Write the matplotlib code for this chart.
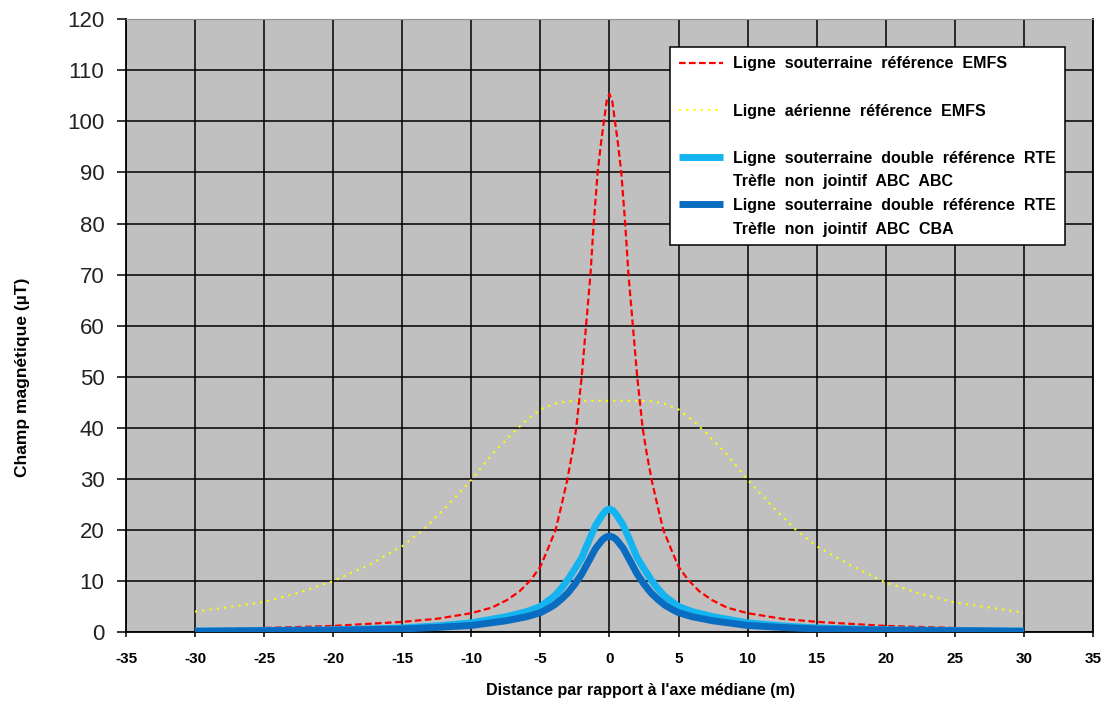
import numpy as np
import matplotlib
matplotlib.use('Agg')
import matplotlib.pyplot as plt
from matplotlib.lines import Line2D

plt.rcParams['font.family'] = ['Liberation Sans', 'DejaVu Sans']
plt.rcParams['axes.unicode_minus'] = False

# distance to the median axis (m) and field values (uT)
x_red = [-30, -25, -20, -15, -12.5, -10, -8.5, -7.4, -6.5, -5.7, -5.0, -4.5, -3.9, -3.5,
         -3.06, -2.66, -2.4, -2.0, -1.69, -1.38, -1.14, -0.85, -0.6, -0.4, -0.2, 0,
         0.2, 0.4, 0.6, 0.85, 1.14, 1.38, 1.69, 2.0, 2.4, 2.66, 3.06,
         3.5, 3.9, 4.5, 5.0, 5.7, 6.5, 7.4, 8.5, 10, 12.5, 15, 20, 25, 30]
red = [0.5, 0.8, 1.2, 2.0, 2.6, 3.7, 4.8, 6.3, 8.0, 10.2, 12.8, 16.0, 20.0, 24.5,
       29.7, 35.6, 40.0, 50.3, 60.1, 69.9, 80.0, 90.2, 96.0, 100.0, 104.0, 105.4,
       104.0, 100.0, 96.0, 90.2, 80.0, 69.9, 60.1, 50.3, 40.0, 35.6, 29.7,
       24.5, 20.0, 16.0, 12.8, 10.2, 8.0, 6.3, 4.8, 3.7, 2.6, 2.0, 1.2, 0.8, 0.5]

x_yel = [-30, -27.5, -25, -22.5, -20, -17.5, -15, -13.5, -12, -10, -8.5, -7, -6, -5, -4, -3, -2,
         0, 2, 3, 4, 5, 6, 7, 8.5, 10, 12, 13.5, 15, 17.5, 20, 22.5, 25, 27.5, 30]
yellow = [4.0, 4.9, 5.9, 7.7, 10.0, 13.0, 16.8, 20.0, 24.0, 29.8, 34.8, 39.0, 41.5, 43.6, 44.7, 45.2, 45.3,
          45.3, 45.3, 45.2, 44.7, 43.6, 41.5, 39.0, 34.8, 29.8, 24.0, 20.0, 16.8, 13.0, 9.7, 7.5, 5.8, 4.8, 3.8]

x_blue = [-30, -25, -20, -15, -12.5, -10, -7.5, -6, -5, -4.5, -4, -3.5, -3, -2.5, -2, -1.5, -1,
          -0.5, -0.25, 0, 0.25, 0.5, 1, 1.5, 2, 2.5, 3, 3.5, 4, 4.5, 5, 6, 7.5, 10, 12.5,
          15, 20, 25, 30]
abc_abc = [0.2, 0.3, 0.45, 0.8, 1.2, 1.8, 3.0, 4.0, 5.0, 6.0, 7.0, 8.5, 10.3, 12.4, 14.6, 17.8, 20.9,
           23.0, 23.8, 24.1, 23.8, 23.0, 20.9, 17.8, 14.6, 12.4, 10.3, 8.5, 7.0, 6.0, 5.0, 4.0,
           3.0, 1.8, 1.2, 0.8, 0.45, 0.3, 0.2]
abc_cba = [0.15, 0.25, 0.35, 0.6, 0.9, 1.3, 2.2, 3.0, 3.8, 4.5, 5.3, 6.4, 7.7, 9.4, 11.4, 13.9, 16.4,
           18.1, 18.6, 18.8, 18.6, 18.1, 16.4, 13.9, 11.4, 9.4, 7.7, 6.4, 5.3, 4.5, 3.8, 3.0,
           2.2, 1.3, 0.9, 0.6, 0.35, 0.25, 0.15]

labels = ['Ligne  souterraine  référence  EMFS',
          'Ligne  aérienne  référence  EMFS',
          'Ligne  souterraine  double  référence  RTE',
          'Trèfle  non  jointif  ABC  ABC',
          'Ligne  souterraine  double  référence  RTE',
          'Trèfle  non  jointif  ABC  CBA']

fig = plt.figure(figsize=(11.09, 7.15), dpi=100)
ax = fig.add_axes([0.1136, 0.116, 0.8719, 0.857])
ax.set_facecolor('#C0C0C0')

l_yel, = ax.plot(x_yel, yellow, color='#FFFF00', lw=1.5, ls=(0, (1, 2.5)), zorder=3)
l_red, = ax.plot(x_red, red, color='#FF0000', lw=1.6, ls=(0, (3, 1.5)), zorder=4)
l_abc, = ax.plot(x_blue, abc_abc, color='#14B4F0', lw=5, solid_capstyle='butt', zorder=5)
l_cba, = ax.plot(x_blue, abc_cba, color='#0A6CC0', lw=5, solid_capstyle='butt', zorder=6)

ax.set_xlim(-35, 35)
ax.set_ylim(0, 120)
ax.set_xticks(np.arange(-35, 36, 5))
ax.set_yticks(np.arange(0, 121, 10))
ax.grid(True, color='black', lw=1.1)
ax.set_axisbelow(True)

ax.tick_params(axis='y', direction='out', length=6.5, width=1.1, pad=9, labelsize=16, colors='black')
ax.tick_params(axis='x', direction='out', length=3.5, width=1.1, pad=11, labelsize=11)
for t in ax.get_xticklabels():
    t.set_fontweight('bold')
for t in ax.get_yticklabels():
    t.set_color('#222222')

for s in ['left', 'bottom', 'right']:
    ax.spines[s].set_linewidth(1.3)
ax.spines['top'].set_color('#909090')

ax.set_xlabel("Distance par rapport à l'axe médiane (m)", fontsize=11.5, fontweight='bold')
ax.xaxis.set_label_coords(0.532, -0.083)
ax.set_ylabel('Champ magnétique (µT)', fontsize=12.5, fontweight='bold')
ax.yaxis.set_label_coords(-0.099, 0.416)

blank = Line2D([], [], ls='none')
handles = [l_red, blank, l_yel, blank, l_abc, blank, l_cba, blank]
leg_labels = [labels[0], ' ', labels[1], ' ', labels[2], labels[3], labels[4], labels[5]]
leg = ax.legend(handles, leg_labels, loc='upper left', bbox_to_anchor=(0.5626, 0.954),
                borderaxespad=0, frameon=True, fancybox=False, edgecolor='black',
                facecolor='white', framealpha=1, prop={'weight': 'bold', 'size': 11.5},
                handlelength=2.8, handletextpad=0.6, labelspacing=0.54, borderpad=0.55)
leg.get_frame().set_linewidth(1.1)

fig.savefig('out.png', dpi=100)
